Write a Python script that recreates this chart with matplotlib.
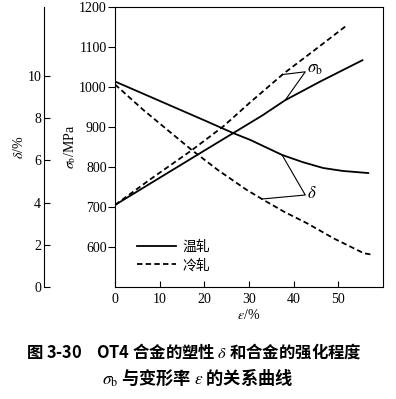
import matplotlib
matplotlib.use('Agg')
import matplotlib.pyplot as plt

plt.rcParams['font.family'] = ['Liberation Serif', 'Noto Sans CJK SC', 'DejaVu Sans']
plt.rcParams['mathtext.fontset'] = 'stix'
plt.rcParams['font.size'] = 10

# ── Data ────────────────────────────────────────────────────────────
# sigma_b, MPa
eps_sb_warm = [0, 10, 20, 26.5, 33, 38.1, 46, 55.4]
sb_warm = [705, 773, 841, 885, 929, 967, 1014, 1067]
eps_sb_cold = [0, 8, 17.2, 24.3, 30.3, 37.7, 45, 52]
sb_cold = [705, 770, 842, 902, 962, 1033, 1095, 1155]

# delta, %
eps_d_warm = [0, 10, 20, 26.5, 30.3, 37.4, 42, 46.6, 51, 56.7]
d_warm = [9.74, 8.82, 7.9, 7.29, 6.97, 6.26, 5.92, 5.64, 5.5, 5.4]
eps_d_cold = [0, 6.35, 12, 17.2, 23, 29.5, 33.3, 38, 43, 49, 55.7, 57.9]
d_cold = [9.6, 8.39, 7.4, 6.49, 5.55, 4.6, 4.12, 3.55, 3.02, 2.3, 1.6, 1.52]

labels = ['温轧', '冷轧']
eps_ticks = [0, 10, 20, 30, 40, 50]
sb_ticks = [600, 700, 800, 900, 1000, 1100, 1200]
d_ticks = [0, 2, 4, 6, 8, 10]

# ── Figure ──────────────────────────────────────────────────────────
fig = plt.figure(figsize=(3.96, 3.99), dpi=100)
ax = fig.add_axes([115 / 396, 1 - 287 / 399, 268 / 396, 280 / 399])
lw = 1.3
dash = (0, (3, 1.8))

l1, = ax.plot(eps_sb_warm, sb_warm, color='black', lw=lw)
l2, = ax.plot(eps_sb_cold, sb_cold, color='black', lw=lw, linestyle=dash)
ax.set_xlim(0, 60)
ax.set_ylim(500, 1200)
ax.set_xticks(eps_ticks)
ax.set_yticks(sb_ticks)
ax.tick_params(axis='x', direction='in', length=4, pad=4, labelsize=10)
ax.tick_params(axis='y', direction='out', length=5, pad=1, labelsize=10)
ax.set_xlabel(r'$\varepsilon$/%', fontsize=10, labelpad=2)
ax.set_ylabel(r'$\sigma_\mathrm{b}$/MPa', fontsize=10, labelpad=1)

# δ axis, detached to the left
ax2 = ax.twinx()
ax2.plot(eps_d_warm, d_warm, color='black', lw=lw)
ax2.plot(eps_d_cold, d_cold, color='black', lw=lw, linestyle=dash)
ax2.set_ylim(0, 13.27)
ax2.set_yticks(d_ticks)
ax2.yaxis.tick_left()
ax2.yaxis.set_label_position('left')
ax2.spines['left'].set_position(('axes', -71 / 268))
ax2.spines['left'].set_visible(True)
for s in ['right', 'top', 'bottom']:
    ax2.spines[s].set_visible(False)
ax2.tick_params(axis='y', direction='in', length=4, pad=2, labelsize=10)
ax2.set_ylabel(r'$\delta$/%', fontsize=10, labelpad=1)

# leader annotations
ax.plot([37.4, 42.6, 38.1], [1031, 1038, 967], color='black', lw=0.8)
ax.text(42.9, 1044, r'$\sigma_\mathrm{b}$', fontsize=12, va='center', ha='left')
ax2.plot([37.4, 42.6, 32.9], [6.26, 4.36, 4.17], color='black', lw=0.8)
ax2.text(42.9, 4.4, r'$\delta$', fontsize=12, va='center', ha='left')

leg = ax.legend([l1, l2], labels, loc='lower left', bbox_to_anchor=(0.035, 0.008),
                frameon=False, handlelength=2.85, handletextpad=0.4,
                labelspacing=0.3, prop={'family': ['Noto Sans CJK SC'], 'size': 10})

# caption
fig.text(0.49, 1 - 352 / 399, r'图 3-30    OT4 合金的塑性 $\delta$ 和合金的强化程度',
         ha='center', va='center', fontsize=11.8, fontweight='bold',
         family=['Noto Sans CJK SC', 'DejaVu Sans'])
fig.text(0.5, 1 - 377 / 399, r'$\sigma_\mathrm{b}$ 与变形率 $\varepsilon$ 的关系曲线',
         ha='center', va='center', fontsize=12.4, fontweight='bold',
         family=['Noto Sans CJK SC', 'DejaVu Sans'])

fig.savefig('out.png', dpi=100)
